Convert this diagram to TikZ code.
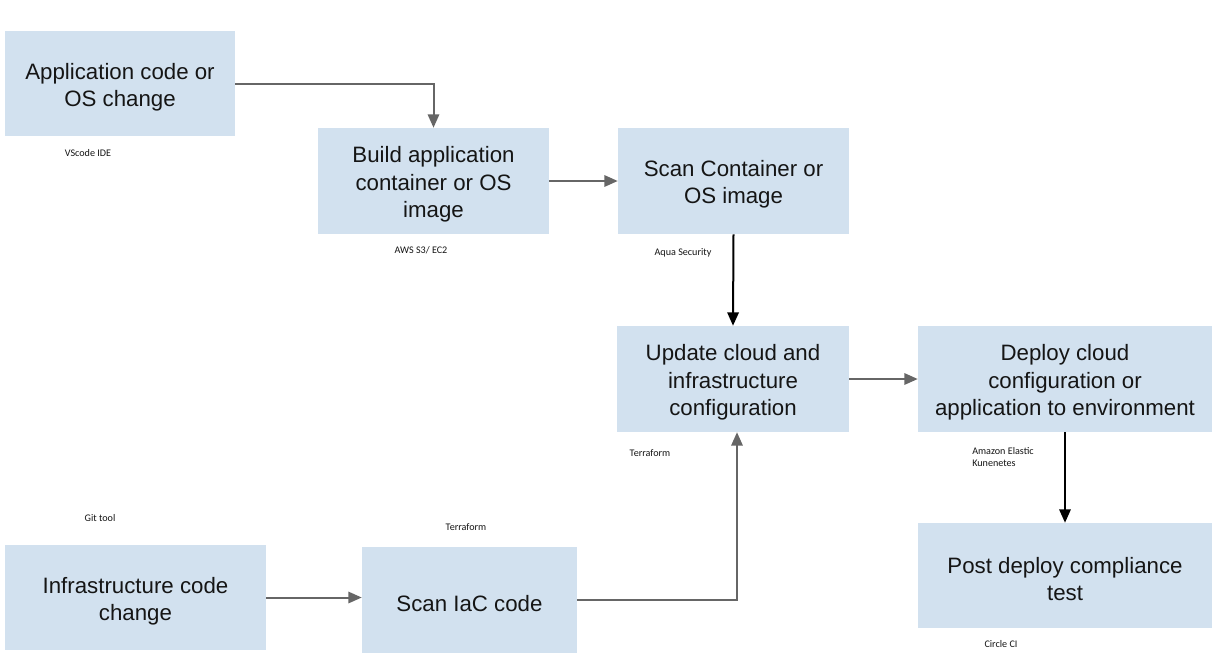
\documentclass[tikz,border=0pt]{standalone}
\usepackage{fontspec}
\setmainfont{Liberation Sans}
\newfontfamily\labelfont{Carlito}
\usetikzlibrary{arrows.meta}
\definecolor{boxfill}{HTML}{D2E1EF}
\definecolor{arrowgray}{HTML}{666666}
\definecolor{txt}{HTML}{151515}
\tikzset{
  stepbox/.style={fill=boxfill, draw=none, inner sep=0pt},
  steptext/.style={align=center, text=txt, font=\fontsize{16.7}{20.5}\selectfont,
    inner sep=0pt, yshift=-2.6pt},
  tool/.style={font=\labelfont\fontsize{7.6}{9.2}\selectfont, text=txt, inner sep=0pt},
  grayarrow/.style={draw=arrowgray, line width=1.5pt, -{Triangle[length=10pt,width=8.5pt]}},
  blackarrow/.style={draw=black, line width=1.5pt, -{Triangle[length=10pt,width=8.5pt]}}
}
\begin{document}
\begin{tikzpicture}[x=0.75pt,y=-0.75pt]
\useasboundingbox (0,0) rectangle (1225,665);
\fill[white] (0,0) rectangle (1225,665);

\node[stepbox, minimum width=172.5pt, minimum height=78.75pt,
  label={[steptext]center:{Application code or\\OS change}}] (A) at (120,83.5) {};
\node[stepbox, minimum width=173.25pt, minimum height=79.5pt,
  label={[steptext]center:{Build application\\container or OS\\image}}] (B) at (433.5,181) {};
\node[stepbox, minimum width=173.25pt, minimum height=79.5pt,
  label={[steptext]center:{Scan Container or\\OS image}}] (C) at (733.5,181) {};
\node[stepbox, minimum width=174pt, minimum height=79.5pt,
  label={[steptext]center:{Update cloud and\\infrastructure\\configuration}}] (D) at (733,379) {};
\node[stepbox, minimum width=220.5pt, minimum height=79.5pt,
  label={[steptext]center:{Deploy cloud\\configuration or\\application to environment}}] (E) at (1065,379) {};
\node[stepbox, minimum width=220.5pt, minimum height=78.75pt,
  label={[steptext]center:{Post deploy compliance\\test}}] (F) at (1065,575.5) {};
\node[stepbox, minimum width=195.75pt, minimum height=78.75pt,
  label={[steptext]center:{Infrastructure code\\change}}] (G) at (135.5,597.5) {};
\node[stepbox, minimum width=161.25pt, minimum height=79.5pt,
  label={[steptext]center:{Scan IaC code}}] (H) at (469.5,600) {};

\node[tool] (tA) at (88,153) {VScode IDE};
\node[tool] (tB) at (421,250) {AWS S3/ EC2};
\node[tool] (tC) at (683,253) {Aqua Security};
\node[tool] (tD) at (650,453) {Terraform};
\node[tool, align=left, anchor=west] (tE) at (972,457) {Amazon Elastic\\Kunenetes};
\node[tool] (tG) at (100,518) {Git tool};
\node[tool] (tH) at (466,527) {Terraform};
\node[tool] (tF) at (1001,644) {Circle CI};

\coordinate (Din) at ([xshift=3pt]D.south);
\draw[grayarrow] (A.east) -| (B.north);
\draw[grayarrow] (B.east) -- (C.west);
\draw[blackarrow] (C.south) -- (D.north);
\draw[grayarrow] (D.east) -- (E.west);
\draw[blackarrow] (E.south) -- (F.north);
\draw[grayarrow] (G.east) -- (G.east -| H.west);
\draw[grayarrow] (H.east) -| (Din);
\end{tikzpicture}
\end{document}
